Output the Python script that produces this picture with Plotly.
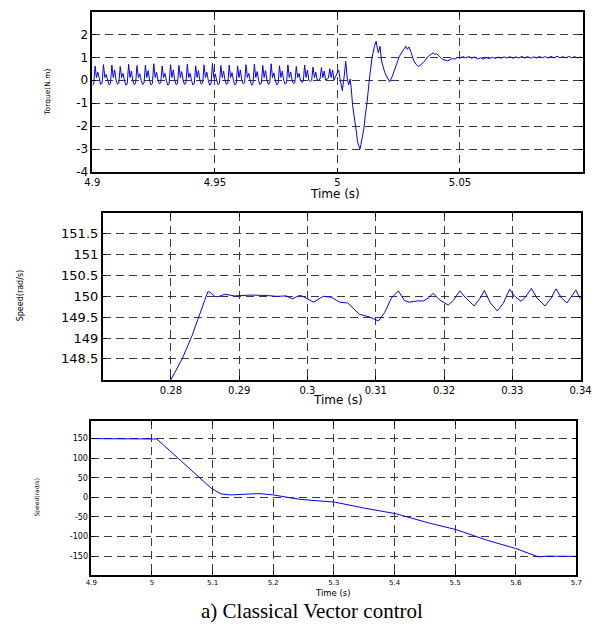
import plotly.graph_objects as go

# ---------------- DATA ----------------
# Panel 1: torque (N.m) vs time (s)
ripple_start = 4.9
ripple_dt = 0.00057
ripple_peaks = [0.62, 0.68, 0.66, 0.60, 0.70, 0.64, 0.66, 0.72, 0.62, 0.68,
                0.65, 0.70, 0.63, 0.67, 0.74, 0.64, 0.66, 0.62, 0.68, 0.70,
                0.65, 0.72, 0.63, 0.67, 0.60, 0.66, 0.58, 0.55, 0.50]
ripple_humps = [0.35, 0.25, 0.45, 0.30, 0.40, 0.28, 0.42, 0.35, 0.30, 0.45,
                0.38, 0.30, 0.42, 0.35, 0.28, 0.40, 0.33, 0.45, 0.30, 0.38,
                0.42, 0.32, 0.40, 0.36, 0.30, 0.44, 0.35, 0.40, 0.45]
ripple_lows = [-0.22, -0.18, -0.20, -0.17, -0.21, -0.19, -0.18, -0.20, -0.16, -0.21,
               -0.19, -0.18, -0.20, -0.17, -0.21, -0.19, -0.18, -0.20, -0.16, -0.21,
               -0.19, -0.18, -0.20, -0.17, -0.15, -0.10, -0.05, 0.00, 0.05]

trans_t = [4.9990, 5.0005, 5.0012, 5.0020, 5.0028, 5.0034, 5.0040, 5.0046, 5.0052,
           5.0056, 5.0062, 5.0068, 5.0073, 5.0078, 5.0082, 5.0087, 5.0092, 5.0096,
           5.0101, 5.0108, 5.0114, 5.0121, 5.0130, 5.0141, 5.0151, 5.0155, 5.0158,
           5.0162, 5.0167, 5.0174, 5.0180, 5.0193, 5.0203, 5.0213, 5.0223, 5.0233,
           5.0253, 5.0266, 5.0279, 5.0285, 5.0292, 5.0301, 5.0312, 5.0322, 5.0332,
           5.0351, 5.0371, 5.0384, 5.0391, 5.0397, 5.0404, 5.0411, 5.0420, 5.0430,
           5.0450, 5.0470, 5.0480, 5.0489, 5.0500]
trans_v = [0.10, 0.45, 0.00, -0.45, 0.20, 0.82, 0.10, -0.20, 0.05,
           -0.30, -1.10, -1.50, -1.97, -2.30, -2.68, -2.85, -3.00, -2.80,
           -2.55, -2.10, -1.50, -0.96, 0.00, 0.98, 1.48, 1.60, 1.70,
           1.45, 1.20, 1.48, 0.84, 0.34, 0.10, -0.07, 0.15, 0.48,
           1.05, 1.27, 1.48, 1.35, 1.45, 1.20, 0.84, 0.68, 0.60,
           0.78, 1.05, 1.15, 1.20, 1.12, 1.16, 1.10, 1.00, 0.90,
           0.85, 0.95, 0.92, 1.00, 0.97]

steady_start = 5.0512
steady_dt = 0.0012
steady_vals = [1.03, 0.97, 1.04, 0.96, 1.02, 0.93, 0.98, 0.92, 0.99, 0.94,
               1.00, 0.95, 1.01, 0.96, 1.02, 0.97, 1.03, 0.96, 1.02, 0.97,
               1.04, 0.97, 1.03, 0.96, 1.02, 0.97, 1.04, 0.98, 1.03, 0.97,
               1.04, 0.97, 1.05, 0.98, 1.03, 0.97, 1.04, 0.98, 1.03, 0.97, 1.02]

# Panel 2: speed (rad/s) vs time (s), zoom on start-up
speed2_t = [0.2800, 0.2817, 0.2831, 0.2846, 0.2854, 0.2857, 0.2864, 0.2869, 0.2879,
            0.2893, 0.2917, 0.2940, 0.2955, 0.2969, 0.2978, 0.2988, 0.2992, 0.3009,
            0.3023, 0.3035, 0.3047, 0.3059, 0.3076, 0.3090, 0.3104, 0.3113, 0.3123,
            0.3133, 0.3142, 0.3149, 0.3161, 0.3170, 0.3177, 0.3184, 0.3194, 0.3206,
            0.3214, 0.3223, 0.3232, 0.3244, 0.3253, 0.3259, 0.3268, 0.3278, 0.3287,
            0.3296, 0.3303, 0.3313, 0.3320, 0.3328, 0.3336, 0.3348, 0.3357, 0.3364,
            0.3372, 0.3380, 0.3387, 0.3393, 0.3400]
speed2_v = [148.00, 148.52, 149.06, 149.72, 150.11, 150.10, 150.00, 149.99, 150.05,
            150.01, 150.03, 150.02, 150.00, 150.01, 149.94, 150.02, 150.01, 149.86,
            150.00, 149.98, 149.86, 149.84, 149.57, 149.51, 149.41, 149.61, 149.96,
            150.13, 149.90, 149.86, 149.89, 149.89, 149.96, 150.07, 149.91, 149.79,
            149.91, 150.13, 149.96, 149.77, 149.96, 150.14, 149.84, 149.65, 149.84,
            150.17, 150.01, 149.88, 150.00, 150.19, 149.96, 149.77, 149.96, 150.18,
            149.96, 149.84, 150.00, 150.15, 149.93]

# Panel 3: speed (rad/s) vs time (s), reversal
speed3_t = [4.900, 5.000, 5.008, 5.029, 5.056, 5.082, 5.098, 5.114, 5.130, 5.162,
            5.178, 5.200, 5.221, 5.242, 5.274, 5.301, 5.349, 5.402, 5.456, 5.501,
            5.552, 5.600, 5.637, 5.650, 5.700]
speed3_v = [150.0, 150.0, 149.0, 119.8, 82.0, 44.0, 23.0, 8.8, 6.3, 8.8,
            9.6, 6.3, 1.3, -4.6, -8.8, -12.0, -27.0, -41.6, -65.0, -82.0,
            -109.0, -130.6, -151.7, -150.0, -150.5]

torque_ticks = [-4, -3, -2, -1, 0, 1, 2]
torque_ticktext = ["-4", "-3", "-2", "-1", "0", "1", "2"]
time1_ticks = [4.9, 4.95, 5.0, 5.05]
time1_ticktext = ["4.9", "4.95", "5", "5.05"]
speed2_ticks = [148.5, 149, 149.5, 150, 150.5, 151, 151.5]
speed2_ticktext = ["148.5", "149", "149.5", "150", "150.5", "151", "151.5"]
time2_ticks = [0.28, 0.29, 0.30, 0.31, 0.32, 0.33, 0.34]
time2_ticktext = ["0.28", "0.29", "0.3", "0.31", "0.32", "0.33", "0.34"]
speed3_ticks = [-150, -100, -50, 0, 50, 100, 150]
speed3_ticktext = ["-150", "-100", "-50", "0", "50", "100", "150"]
time3_ticks = [4.9, 5.0, 5.1, 5.2, 5.3, 5.4, 5.5, 5.6, 5.7]
time3_ticktext = ["4.9", "5", "5.1", "5.2", "5.3", "5.4", "5.5", "5.6", "5.7"]

caption = "a) Classical Vector control"

# ---------------- BUILD SERIES ----------------
torque_t, torque_v = [], []
k = 0
for p, h, lo in zip(ripple_peaks, ripple_humps, ripple_lows):
    cyc = [lo, lo + 0.05, p, 0.12, h, 0.0]
    for v in cyc:
        torque_t.append(ripple_start + k * ripple_dt)
        torque_v.append(v)
        k += 1
torque_t += trans_t
torque_v += trans_v
for i, v in enumerate(steady_vals):
    torque_t.append(steady_start + i * steady_dt)
    torque_v.append(v)

W, H = 610, 633
BLUE = "#0000FF"
GRID = "#3a3a3a"
FONT = "DejaVu Sans"

fig = go.Figure()
fig.add_trace(go.Scatter(x=torque_t, y=torque_v, mode="lines",
                         line=dict(color=BLUE, width=1), xaxis="x", yaxis="y"))
fig.add_trace(go.Scatter(x=speed2_t, y=speed2_v, mode="lines",
                         line=dict(color=BLUE, width=1), xaxis="x2", yaxis="y2"))
fig.add_trace(go.Scatter(x=speed3_t, y=speed3_v, mode="lines",
                         line=dict(color=BLUE, width=1), xaxis="x3", yaxis="y3"))


def dom_x(a, b):
    return [a / W, b / W]


def dom_y(top, bot):
    return [1 - bot / H, 1 - top / H]


def ax(domain, rng, tv, tt, size, anchor):
    return dict(domain=domain, range=rng, tickvals=tv, ticktext=tt,
                showline=True, linecolor="black", linewidth=1.5, mirror="ticks",
                ticks="inside", ticklen=4, tickcolor="black",
                showgrid=True, gridcolor=GRID, griddash="8px,5px", gridwidth=1,
                zeroline=False, anchor=anchor,
                tickfont=dict(family=FONT, size=size, color="black"))


fig.update_layout(
    width=W, height=H, margin=dict(l=0, r=0, t=0, b=0),
    paper_bgcolor="white", plot_bgcolor="white", showlegend=False,
    xaxis=ax(dom_x(87, 593), [4.9, 5.1], time1_ticks, time1_ticktext, 10, "y"),
    yaxis=ax(dom_y(12, 174), [-4, 2.98], torque_ticks, torque_ticktext, 12, "x"),
    xaxis2=ax(dom_x(97.7, 591), [0.27, 0.34], time2_ticks, time2_ticktext, 10, "y2"),
    yaxis2=ax(dom_y(215.3, 384), [148, 152], speed2_ticks, speed2_ticktext, 13, "x2"),
    xaxis3=ax(dom_x(86, 586.7), [4.9, 5.7], time3_ticks, time3_ticktext, 7, "y3"),
    yaxis3=ax(dom_y(425.7, 581), [-197, 195], speed3_ticks, speed3_ticktext, 8, "x3"),
)


def ann(text, x, y, size, angle=0, family=FONT):
    fig.add_annotation(text=text, x=x / W, y=1 - y / H, xref="paper", yref="paper",
                       showarrow=False, textangle=angle, xanchor="center", yanchor="middle",
                       font=dict(family=family, size=size, color="black"))


ann("Time (s)", 338, 196.5, 12)
ann("Time (s)", 341, 404, 12)
ann("Time (s)", 335, 600, 8.5)
ann("Torque(N.m)", 41, 93, 7.5, angle=-90)
ann("Speed(rad/s)", 13, 299, 8, angle=-90)
ann("Speed(rad/s)", 30, 503, 6, angle=-90)
ann(caption, 314, 618, 21, family="Liberation Serif")

fig.write_html("out.html")
